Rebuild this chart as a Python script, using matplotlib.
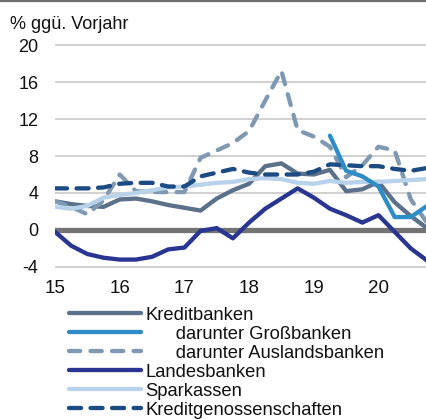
import numpy as np
import matplotlib
matplotlib.use("Agg")
import matplotlib.pyplot as plt
from matplotlib.lines import Line2D

plt.rcParams['font.family'] = ['Liberation Sans', 'DejaVu Sans']

# quarterly observations, 2015 Q1 ... 2020 Q4 (x in years, "15" = 2015)
quarters = np.arange(24) * 0.25 + 15

kreditbanken = [3.1, 2.8, 2.6, 2.5, 3.3, 3.4, 3.1, 2.7, 2.4, 2.1, 3.4, 4.3,
                5.0, 6.9, 7.2, 6.1, 6.0, 6.5, 4.2, 4.4, 5.2, 3.0, 1.5, 0.2]
grossbanken = [np.nan] * 17 + [10.2, 6.4, 5.8, 4.7, 1.4, 1.4, 2.6]
auslandsbanken = [3.1, 2.5, 1.7, 3.2, 6.0, 4.2, 4.1, 4.1, 4.1, 7.8, 8.6, 9.4,
                  10.7, 14.0, 17.2, 10.8, 10.1, 9.0, 5.7, 7.0, 9.0, 8.6, 3.3, 0.8]
landesbanken = [-0.2, -1.7, -2.6, -3.0, -3.2, -3.2, -2.9, -2.1, -1.9, -0.1, 0.2, -0.9,
                0.8, 2.3, 3.4, 4.5, 3.5, 2.3, 1.6, 0.8, 1.6, -0.2, -2.0, -3.3]
sparkassen = [2.5, 2.3, 2.6, 3.5, 3.8, 4.0, 4.3, 4.6, 4.7, 4.9, 5.1, 5.2,
              5.5, 5.6, 5.5, 5.1, 5.0, 5.3, 5.1, 5.2, 5.2, 5.3, 5.4, 5.5]
genossenschaften = [4.5, 4.5, 4.5, 4.6, 5.0, 5.1, 5.1, 4.7, 4.7, 5.8, 6.2, 6.6,
                    6.2, 6.0, 6.0, 6.0, 6.3, 7.1, 7.0, 6.9, 6.9, 6.6, 6.4, 6.7]

labels = ["Kreditbanken", "      darunter Großbanken", "      darunter Auslandsbanken",
          "Landesbanken", "Sparkassen", "Kreditgenossenschaften"]
yticks = [-4, 0, 4, 8, 12, 16, 20]
xticks = [15, 16, 17, 18, 19, 20]
xticklabels = ["15", "16", "17", "18", "19", "20"]

c_kredit = '#5a7189'
c_gross = '#2e8cc6'
c_ausl = '#8099b3'
c_landes = '#283591'
c_spark = '#b8d2eb'
c_geno = '#1c4a82'

W, H = 427, 419
fig = plt.figure(figsize=(W / 100, H / 100), dpi=100)
ax = fig.add_axes([55 / W, 1 - 271.6 / H, 1 - 55 / W, (271.6 - 40.4) / H])
ax.set_xlim(15, 20.75)
ax.set_ylim(-4.5, 20.5)

for s in ax.spines.values():
    s.set_visible(False)
for y in yticks:
    if y != 0:
        ax.axhline(y, color='#c8c8c8', lw=1.2, zorder=1)
ax.axhline(0, color='#737373', lw=3.8, zorder=2)

lw = 3.1
kw = dict(solid_capstyle='round', dash_capstyle='round', lw=lw, zorder=3)
h1, = ax.plot(quarters, kreditbanken, color=c_kredit, **kw)
h3, = ax.plot(quarters, auslandsbanken, color=c_ausl, dashes=(2.6, 2.4), **kw)
h5, = ax.plot(quarters, sparkassen, color=c_spark, **kw)
h6, = ax.plot(quarters, genossenschaften, color=c_geno, dashes=(2.8, 2.2), **kw)
h4, = ax.plot(quarters, landesbanken, color=c_landes, **kw)
h2, = ax.plot(quarters, grossbanken, color=c_gross, **kw)

ax.set_yticks(yticks)
ax.set_yticklabels([str(v) for v in yticks], fontsize=13)
ax.set_xticks(xticks)
ax.set_xticklabels(xticklabels, fontsize=13.5)
ax.tick_params(axis='y', length=0, pad=12, colors='#111111')
ax.tick_params(axis='x', length=0, pad=6, colors='#111111')

fig.text(10 / W, 1 - 29 / H, "% ggü. Vorjahr", fontsize=13, color='#111111',
         ha='left', va='baseline')

# top border line
fig.add_artist(Line2D([0, 1], [1 - 0.8 / H, 1 - 0.8 / H], transform=fig.transFigure,
                      color='#6e6e6e', lw=1.6))

leg = fig.legend([h1, h2, h3, h4, h5, h6], labels, loc='upper left',
                 bbox_to_anchor=(69 / W, 1 - 306.5 / H), frameon=False,
                 fontsize=13.2, handlelength=3.9, handletextpad=0.27,
                 labelspacing=0.11, borderaxespad=0, borderpad=0)
for t in leg.get_texts():
    t.set_color('#111111')

fig.savefig("out.png", dpi=100)
